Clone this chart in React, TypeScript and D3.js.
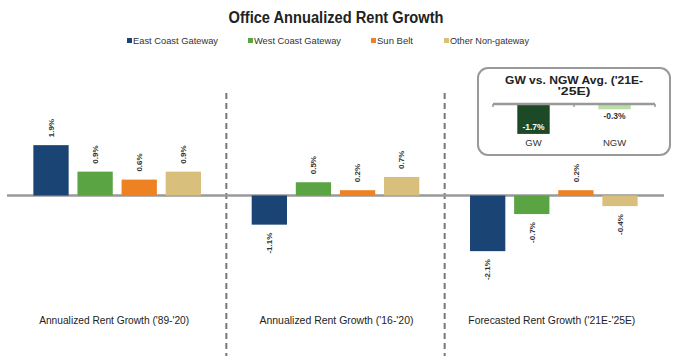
import React from "react";
import * as d3 from "d3";

const title = "Office Annualized Rent Growth";
const periods = ["Annualized Rent Growth ('89-'20)", "Annualized Rent Growth ('16-'20)", "Forecasted Rent Growth ('21E-'25E)"];
const seriesNames = ["East Coast Gateway", "West Coast Gateway", "Sun Belt", "Other Non-gateway"];
const seriesColors = ["#1a4474", "#5ba443", "#ee8121", "#d8c07c"];
const eastCoast = [1.9, -1.1, -2.1];
const westCoast = [0.9, 0.5, -0.7];
const sunBelt = [0.6, 0.2, 0.2];
const otherNonGw = [0.9, 0.7, -0.4];
const insetTitle = ["GW  vs. NGW Avg. ('21E-", "'25E)"];
const insetCats = ["GW", "NGW"];
const insetValues = [-1.7, -0.3];
const insetColors = ["#1d4a26", "#b9dea5"];

const W = 674;
const H = 356;
const SANS = "'Liberation Sans', Arial, sans-serif";

export default function App() {
  const series = [eastCoast, westCoast, sunBelt, otherNonGw];
  const x0 = d3.scaleBand<string>().domain(periods).range([8, 663]).padding(0);
  const x1 = d3.scaleBand<string>().domain(seriesNames).range([0, x0.bandwidth()]).paddingInner(0.2).paddingOuter(0.575);
  const y = d3.scaleLinear().domain([-2.5, 2.5]).range([195.5 + 66.25, 195.5 - 66.25]);
  const fmt = (v: number) => v.toFixed(1) + "%";

  const ix = d3.scaleBand<string>().domain(insetCats).range([493, 655]).paddingInner(0.6).paddingOuter(0.3);
  const iy = d3.scaleLinear().domain([-2, 0]).range([104 + 35.2, 104]);

  const dividers = periods.slice(1).map((p) => (x0(p) as number));
  const legendX = [127, 248, 371, 444];
  const legendLen = [85, 87, 36, 79];
  const periodLen = [150, 154, 167];
  const periodDx = [-3, 1, -2];

  return (
    <svg width={W} height={H} style={{ position: "absolute", left: 0, top: 0, background: "#fff" }}>
      <text x={336} y={23} textAnchor="middle" fontFamily={SANS} fontSize={16} fontWeight="bold" fill="#222" textLength={215} lengthAdjust="spacingAndGlyphs">{title}</text>
      {seriesNames.map((s, i) => {
        const lx = legendX[i];
        return (
          <g key={s}>
            <rect x={lx} y={38} width={5} height={5} fill={seriesColors[i]} />
            <text x={lx + 6} y={43.5} fontFamily={SANS} fontSize={9} fill="#333" textLength={legendLen[i]} lengthAdjust="spacingAndGlyphs">{s}</text>
          </g>
        );
      })}
      {dividers.map((d, i) => (
        <line key={i} x1={d} x2={d} y1={93} y2={356} stroke="#777" strokeWidth={2} strokeDasharray="6,4" />
      ))}
      <line x1={7} x2={664} y1={y(0)} y2={y(0)} stroke="#999" strokeWidth={2.5} />
      {periods.map((p, gi) => (
        <g key={p} transform={`translate(${x0(p)},0)`}>
          {seriesNames.map((s, si) => {
            const v = series[si][gi];
            const bx = x1(s) as number;
            const bw = x1.bandwidth();
            const top = Math.min(y(v), y(0));
            const h = Math.abs(y(v) - y(0));
            const cx = bx + bw / 2;
            const ly = v >= 0 ? y(v) - 8 : y(v) + 8;
            return (
              <g key={s}>
                <rect x={bx} y={top} width={bw} height={h} fill={seriesColors[si]} />
                <text transform={`translate(${cx},${ly}) rotate(-90)`} textAnchor={v >= 0 ? "start" : "end"} dy="0.35em" fontFamily={SANS} fontSize={8} fontWeight="bold" fill="#333">{fmt(v)}</text>
              </g>
            );
          })}
          <text x={x0.bandwidth() / 2 + periodDx[gi]} y={324} textAnchor="middle" fontFamily={SANS} fontSize={10.5} fill="#222" textLength={periodLen[gi]} lengthAdjust="spacingAndGlyphs">{p}</text>
        </g>
      ))}
      <rect x={478} y={68} width={192} height={87} rx={10} ry={10} fill="#fff" stroke="#999" strokeWidth={2} />
      {insetTitle.map((t, i) => (
        <text key={i} x={574} y={84 + i * 11} textAnchor="middle" fontFamily={SANS} fontSize={11.5} fontWeight="bold" fill="#222" textLength={i === 0 ? 138 : 33} lengthAdjust="spacingAndGlyphs">{t}</text>
      ))}
      {insetCats.map((c, i) => {
        const v = insetValues[i];
        const bx = ix(c) as number;
        const bw = ix.bandwidth();
        return (
          <g key={c}>
            <rect x={bx} y={iy(0)} width={bw} height={iy(v) - iy(0)} fill={insetColors[i]} />
            {i === 0 ? (
              <text x={bx + bw / 2} y={iy(v) - 4} textAnchor="middle" fontFamily={SANS} fontSize={8.5} fontWeight="bold" fill="#fff">{fmt(v)}</text>
            ) : (
              <text x={bx + bw / 2} y={iy(v) + 10} textAnchor="middle" fontFamily={SANS} fontSize={8.5} fontWeight="bold" fill="#333">{fmt(v)}</text>
            )}
            <text x={bx + bw / 2} y={146} textAnchor="middle" fontFamily={SANS} fontSize={9.5} fill="#333">{c}</text>
          </g>
        );
      })}
      <line x1={493} x2={655} y1={iy(0)} y2={iy(0)} stroke="#999" strokeWidth={2.5} />
      {[493, 574, 655].map((t) => (
        <line key={t} x1={t} x2={t} y1={iy(0)} y2={iy(0) + 3} stroke="#999" strokeWidth={1.5} />
      ))}
    </svg>
  );
}
